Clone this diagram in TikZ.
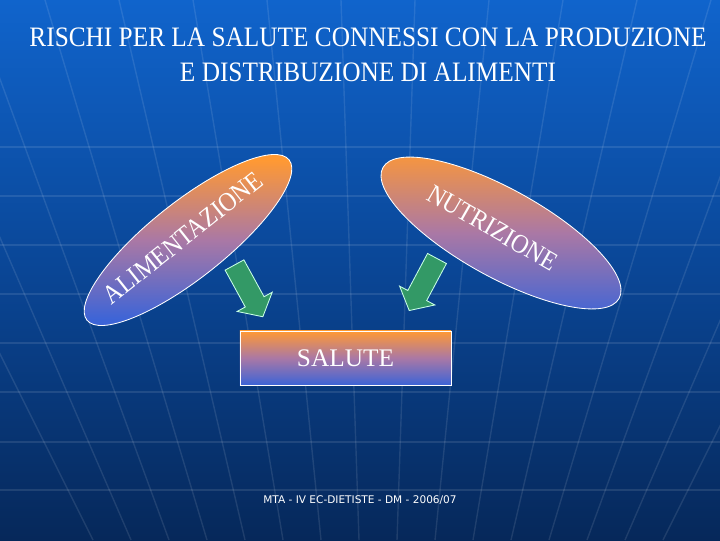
\documentclass[tikz,border=0pt]{standalone}
\usepackage{fontspec}
\setmainfont{Liberation Serif}
\newfontfamily\footfont{DejaVu Sans}
\usepackage{xcolor}
\definecolor{bgtop}{RGB}{16,100,204}
\definecolor{bgmid}{RGB}{10,70,150}
\definecolor{bgbot}{RGB}{6,40,90}
\definecolor{ora}{RGB}{255,153,51}
\definecolor{mauve}{RGB}{170,120,165}
\definecolor{blu}{RGB}{60,100,215}
\definecolor{arrgreen}{RGB}{51,153,102}
\definecolor{arrline}{RGB}{200,255,230}
\tikzset{blob/.style={top color=ora,bottom color=blu,middle color=mauve,draw=white,line width=0.6pt}}
\tikzset{blobtext/.style={text=white,xscale=0.9,font=\fontsize{19}{22}\selectfont}}
\tikzset{fatarrow/.style={fill=arrgreen,draw=arrline,line width=0.6pt}}
\tikzset{gridline/.style={draw=white,opacity=0.1,line width=1pt}}

\begin{document}
\begin{tikzpicture}[x=0.025cm,y=0.025cm]
\useasboundingbox (0,0) rectangle (720,540);
\shade[top color=bgtop,bottom color=bgbot,middle color=bgmid] (0,0) rectangle (720,540);
\foreach \m in {-7.5,-6.5,...,7.5}
  \draw[gridline] plot[smooth] coordinates {(378+74*\m,540) (378+54*\m,240) (378+38*\m,0)};
\foreach \h in {50,98,148,197,246,295,344,393}
  \draw[gridline] (0,\h) -- (720,\h);
\node[text=white,align=center,xscale=0.9,font=\fontsize{20}{24.9}\selectfont] (title) at (368,485)
  {RISCHI PER LA SALUTE CONNESSI CON LA PRODUZIONE\\E DISTRIBUZIONE DI ALIMENTI};
\shade[blob] (188,300) ellipse [x radius=129,y radius=38,rotate=38.4];
\shade[blob] (501,307) ellipse [x radius=135,y radius=44,rotate=-29];
\node[rotate=38.4,blobtext] (alim) at (183,302) {ALIMENTAZIONE};
\node[rotate=-30,blobtext] (nutr) at (493,312) {NUTRIZIONE};
\foreach \c/\a in {{(234.5,275)}/-61.3,{(437,281.5)}/-118.1}
  \draw[fatarrow,shift={\c},rotate=\a] (0,10.7) -- (42,10.7) -- (42,20) -- (59,0) -- (42,-20) -- (42,-10.7) -- (0,-10.7) -- cycle;
\node[draw=white,line width=0.6pt,top color=ora,bottom color=blu,middle color=mauve,
  minimum width=5.275cm,minimum height=1.35cm,text=white,font=\fontsize{18}{20}\selectfont] (salute) at (345.5,182) {SALUTE};
\node[text=white,font=\footfont\fontsize{7.5}{9}\selectfont] (footer) at (360,40) {MTA - IV EC-DIETISTE - DM - 2006/07};
\end{tikzpicture}
\end{document}
